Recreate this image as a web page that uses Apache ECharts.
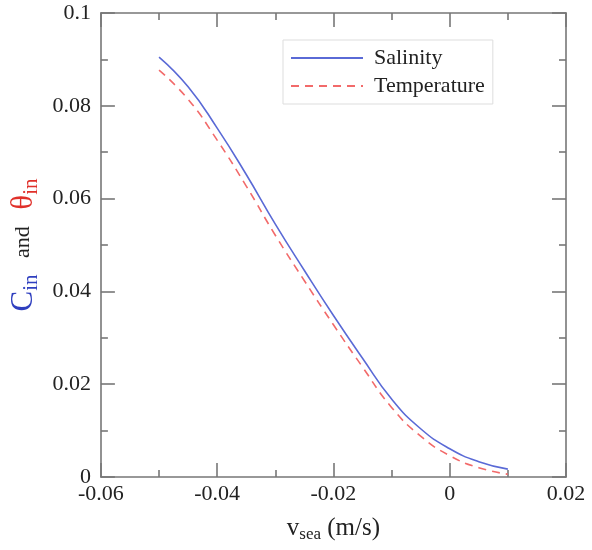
<!DOCTYPE html>
<html>
<head>
<meta charset="utf-8">
<script src="https://cdn.jsdelivr.net/npm/echarts@6/dist/echarts.min.js"></script>
<style>
    html, body { margin: 0; padding: 0; background: #fff; }
    #main { width: 592px; height: 550px; }
</style>
</head>
<body>
<div id="main"></div>
<script>
// v_sea (m/s)
var vSea = [-0.05, -0.045, -0.04, -0.035, -0.03, -0.025, -0.02, -0.015, -0.01, -0.005, 0, 0.005, 0.01];
// C_in
var salinity = [0.0905, 0.0841, 0.0752, 0.0652, 0.0545, 0.0445, 0.0348, 0.0256, 0.0168, 0.0104, 0.0061, 0.0033, 0.0017];
// theta_in
var temperature = [0.0877, 0.0814, 0.0726, 0.0627, 0.0521, 0.0423, 0.0328, 0.0237, 0.0150, 0.0088, 0.0046, 0.0020, 0.0006];

var xTicks = { min: -0.06, max: 0.02, interval: 0.02 };
var yTicks = { min: 0, max: 0.1, interval: 0.02 };

var font = 'Liberation Serif';
var axisColor = '#777';

function pairs(xs, ys) {
    var out = [];
    for (var i = 0; i < xs.length; i++) out.push([xs[i], ys[i]]);
    return out;
}

// 坐标轴公共样式（刻度朝内，上下左右都画）
function axisBase(showLabel) {
    return {
        axisLine: { show: true, onZero: false, lineStyle: { color: axisColor, width: 1.6 } },
        axisTick: { show: true, inside: true, length: 14, lineStyle: { color: axisColor, width: 1.6 } },
        minorTick: { show: true, splitNumber: 2, length: 7, lineStyle: { color: axisColor, width: 1.6 } },
        splitLine: { show: false },
        axisLabel: {
            show: showLabel,
            color: '#222',
            fontFamily: font,
            fontSize: 22
        }
    };
}

var xBottom = Object.assign(axisBase(true), {
    type: 'value', position: 'bottom',
    min: xTicks.min, max: xTicks.max, interval: xTicks.interval,
    name: '{v|v}{s|sea}{v| (m/s)}',
    nameLocation: 'middle',
    nameGap: 36,
    nameTextStyle: {
        fontFamily: font,
        rich: {
            v: { fontFamily: font, fontSize: 25, color: '#222', lineHeight: 30 },
            s: { fontFamily: font, fontSize: 17, color: '#222', lineHeight: 16, verticalAlign: 'bottom' }
        }
    }
});
xBottom.axisLabel.margin = 6;

var xTop = Object.assign(axisBase(false), {
    type: 'value', position: 'top',
    min: xTicks.min, max: xTicks.max, interval: xTicks.interval
});

var yLeft = Object.assign(axisBase(true), {
    type: 'value', position: 'left',
    min: yTicks.min, max: yTicks.max, interval: yTicks.interval,
    name: '{c|C}{ci|in}{a|   and   }{t|θ}{ti|in}',
    nameLocation: 'middle',
    nameRotate: 90,
    nameGap: 54,
    nameTextStyle: {
        fontFamily: font,
        rich: {
            c: { fontFamily: font, fontSize: 31, color: '#2f3fbf', lineHeight: 36 },
            ci: { fontFamily: font, fontSize: 21, color: '#2f3fbf', lineHeight: 20, verticalAlign: 'bottom' },
            a: { fontFamily: font, fontSize: 22, color: '#222', lineHeight: 36 },
            t: { fontFamily: font, fontSize: 31, color: '#e0302a', lineHeight: 36 },
            ti: { fontFamily: font, fontSize: 21, color: '#e0302a', lineHeight: 20, verticalAlign: 'bottom' }
        }
    }
});
yLeft.axisLabel.margin = 10;

var yRight = Object.assign(axisBase(false), {
    type: 'value', position: 'right',
    min: yTicks.min, max: yTicks.max, interval: yTicks.interval
});

var chart = echarts.init(document.getElementById('main'));
chart.setOption({
    animation: false,
    backgroundColor: '#fff',
    grid: { left: 100, right: 26, top: 13, bottom: 73 },
    legend: {
        left: 283,
        top: 40,
        orient: 'vertical',
        padding: [7, 8, 7, 7],
        itemWidth: 72,
        itemHeight: 14,
        itemGap: 6,
        borderColor: '#ddd',
        borderWidth: 1,
        itemStyle: { opacity: 0 },
        textStyle: { fontFamily: font, fontSize: 22, color: '#222', padding: [0, 0, 0, 6] },
        data: ['Salinity', 'Temperature']
    },
    xAxis: [xBottom, xTop],
    yAxis: [yLeft, yRight],
    series: [
        {
            name: 'Salinity',
            type: 'line',
            smooth: 0.5,
            symbol: 'none',
            lineStyle: { color: '#5a6ad6', width: 1.6 },
            itemStyle: { color: '#5a6ad6' },
            data: pairs(vSea, salinity)
        },
        {
            name: 'Temperature',
            type: 'line',
            smooth: 0.5,
            symbol: 'none',
            lineStyle: { color: '#f26a6a', width: 1.6, type: [8, 6] },
            itemStyle: { color: '#f26a6a' },
            data: pairs(vSea, temperature)
        }
    ]
});
</script>
</body>
</html>
